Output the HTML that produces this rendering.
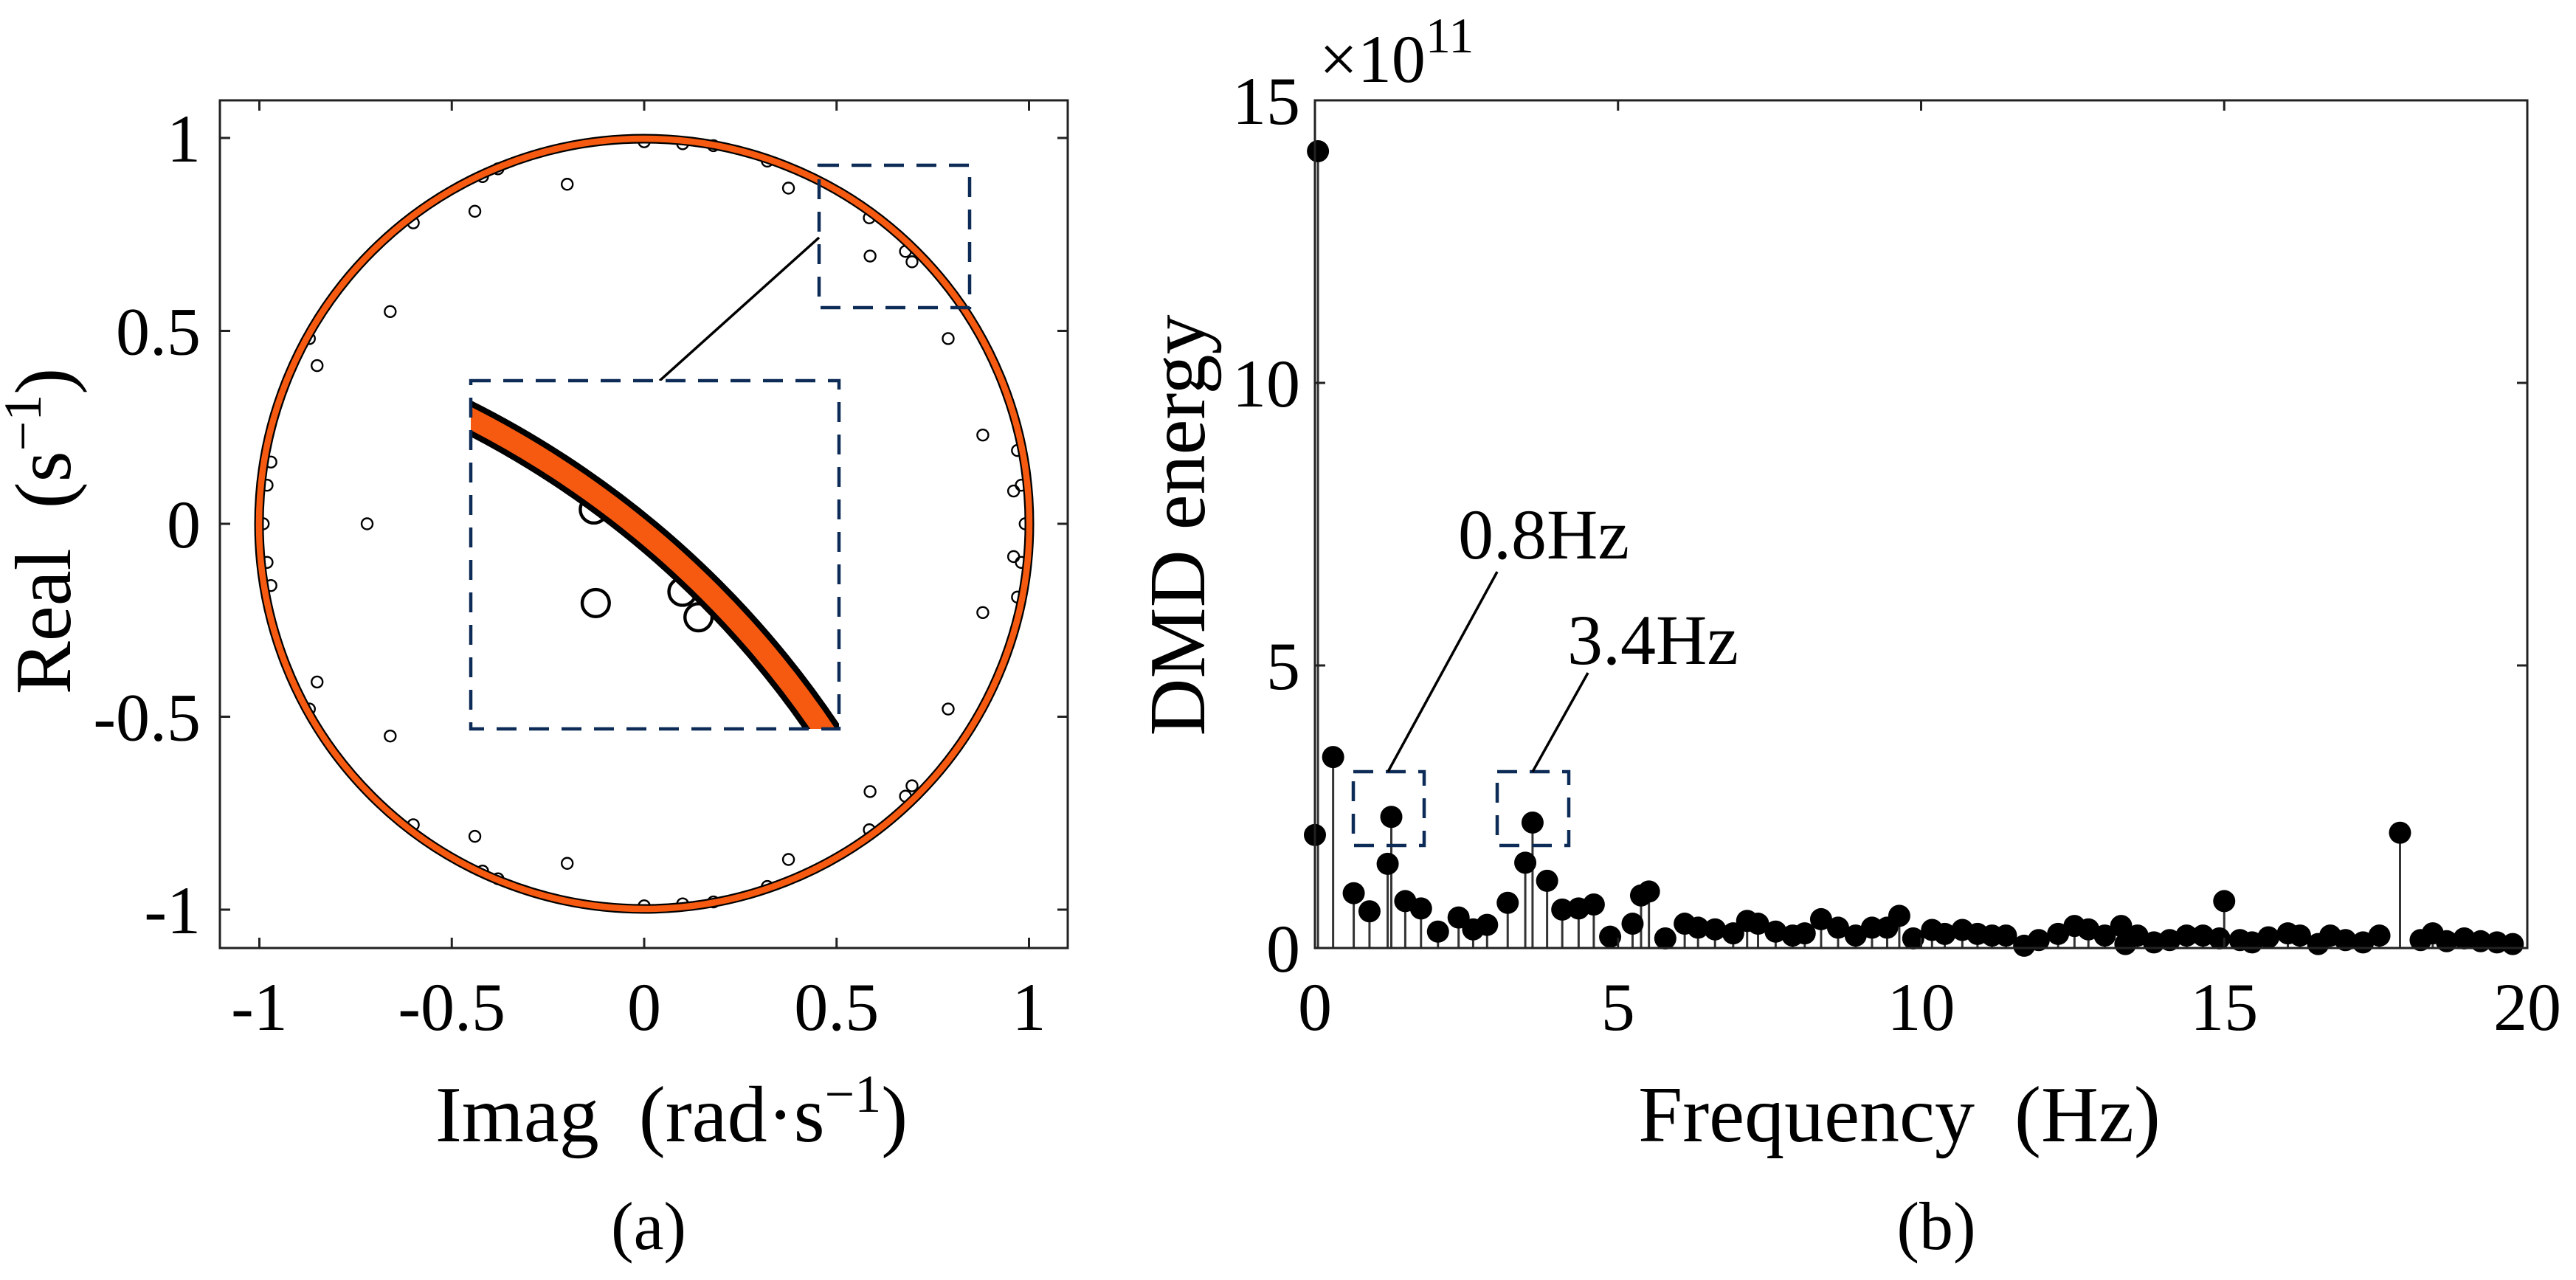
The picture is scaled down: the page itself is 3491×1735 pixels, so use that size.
<!DOCTYPE html>
<html><head><meta charset="utf-8">
<style>
html,body{margin:0;padding:0;background:#fff;overflow:hidden;width:3491px;height:1735px;}
svg{display:block;}
text{font-family:"Liberation Serif",serif;fill:#000;}
</style></head>
<body>
<svg id="fig" width="3491" height="1735" viewBox="0 0 3491 1735" xmlns="http://www.w3.org/2000/svg">
<defs>
<clipPath id="insetClip"><rect x="638" y="516" width="499" height="472"/></clipPath>
<clipPath id="leftClip"><rect x="298" y="136" width="1149" height="1149"/></clipPath>
</defs>
<g id="left"></g>
<g id="right"></g>
</svg>
<script>
// ---------- Panel (a) data ----------
const eigUpperRe = [-0.20,-0.44,-0.66,-0.85,0.375,0.587,0.79,0.88,0.96,0.0,0.10,0.18,0.585,0.679,0.696,-0.38,-0.60,-0.87,-0.97,-0.98,0.97,0.98,-0.42,0.32];
const eigUpperIm = [0.88,0.81,0.55,0.41,0.87,0.694,0.48,0.23,0.085,0.99,0.985,0.98,0.793,0.706,0.679,0.92,0.78,0.48,0.16,0.10,0.19,0.10,0.90,0.94];
const eigRealRe = [-0.72,-0.99,0.99];
const aTicks = [-1,-0.5,0,0.5,1];
const aTickLabels = ["-1","-0.5","0","0.5","1"];
// ---------- Panel (b) data ----------
const freqs = [0.0,0.05,0.3,0.64,0.9,1.2,1.26,1.49,1.75,2.03,2.37,2.61,2.84,3.18,3.47,3.59,3.83,4.08,4.35,4.6,4.87,5.24,5.38,5.51,5.78,6.1,6.32,6.6,6.9,7.13,7.31,7.6,7.88,8.08,8.35,8.63,8.92,9.19,9.44,9.64,9.87,10.18,10.39,10.68,10.93,11.17,11.4,11.7,11.94,12.26,12.53,12.76,13.03,13.3,13.37,13.57,13.84,14.1,14.38,14.65,14.92,15.0,15.26,15.46,15.73,16.05,16.25,16.55,16.75,17.0,17.29,17.56,17.9,18.24,18.44,18.67,18.96,19.23,19.5,19.76];
const energy = [2.0,14.1,3.38,0.97,0.65,1.49,2.32,0.83,0.7,0.29,0.54,0.33,0.41,0.8,1.51,2.22,1.19,0.68,0.7,0.77,0.2,0.43,0.93,1.0,0.17,0.43,0.36,0.33,0.26,0.48,0.43,0.29,0.22,0.26,0.51,0.36,0.22,0.36,0.36,0.57,0.17,0.32,0.25,0.32,0.25,0.22,0.22,0.04,0.14,0.25,0.39,0.33,0.22,0.39,0.07,0.22,0.1,0.14,0.22,0.22,0.17,0.83,0.14,0.1,0.19,0.26,0.22,0.07,0.22,0.14,0.1,0.22,2.04,0.14,0.26,0.12,0.17,0.12,0.1,0.07];
const bXTicks = [0,5,10,15,20];
const bYTicks = [0,5,10,15];

const NS="http://www.w3.org/2000/svg";
function mk(tag, parent, attrs){const e=document.createElementNS(NS,tag);for(const k in attrs)e.setAttribute(k,attrs[k]);parent.appendChild(e);return e;}

// ===== Panel (a) =====
const L=document.getElementById('left');
const ax=v=>873+v*521.5, ay=v=>710-v*523;
const inner=mk('g',L,{'clip-path':'url(#leftClip)'});
function drawCircleContent(g, blackW, orangeW, ptW){
  const ring=mk('circle',g,{cx:ax(0),cy:ay(0),r:522,fill:'none',stroke:'#000','stroke-width':blackW});
  
  
  const pts=[];
  eigUpperRe.forEach((re,i)=>{pts.push([re,eigUpperIm[i]]);pts.push([re,-eigUpperIm[i]]);});
  eigRealRe.forEach(re=>pts.push([re,0]));
  pts.forEach(p=>{
    const c=mk('circle',g,{cx:ax(p[0]),cy:ay(p[1]),r:7.5,fill:'none',stroke:'#000','stroke-width':ptW});
    
    
  });
  const o=mk('circle',g,{cx:ax(0),cy:ay(0),r:522,fill:'none',stroke:'#f55a10','stroke-width':orangeW});
  
  
}
drawCircleContent(inner,13,8.5,2.4);
const box=mk('rect',L,{x:298,y:136,width:1149,height:1149,fill:'none',stroke:'#222','stroke-width':3});


aTicks.forEach((t,i)=>{
  mk('line',L,{x1:ax(t),x2:ax(t),y1:1285,y2:1271,stroke:'#222','stroke-width':3});
  mk('line',L,{x1:ax(t),x2:ax(t),y1:136,y2:150,stroke:'#222','stroke-width':3});
  mk('line',L,{x1:298,x2:312,y1:ay(t),y2:ay(t),stroke:'#222','stroke-width':3});
  mk('line',L,{x1:1447,x2:1433,y1:ay(t),y2:ay(t),stroke:'#222','stroke-width':3});
  const xl=mk('text',L,{x:ax(t),y:1396,'font-size':92,'text-anchor':'middle'});xl.textContent=aTickLabels[i];
  
  
  const yl=mk('text',L,{x:272,y:ay(t)+32,'font-size':92,'text-anchor':'end'});yl.textContent=aTickLabels[i];
  
  
});
const NAVY='#0d2b57';
const sb=mk('rect',L,{x:1110,y:224,width:204,height:193,fill:'none',stroke:NAVY,'stroke-width':4.5,'stroke-dasharray':'27 17'});


mk('line',L,{x1:1110,y1:322,x2:894,y2:516,stroke:'#000','stroke-width':3.5});
mk('rect',L,{x:638,y:516,width:499,height:472,fill:'#fff'});
const ig=mk('g',L,{'clip-path':'url(#insetClip)'});
const s=2.45;
const tg=mk('g',ig,{transform:`translate(638,516) scale(${s}) translate(-1110,-224)`});
drawCircleContent(tg,18,11.5,1.8);
const ib=mk('rect',L,{x:638,y:516,width:499,height:472,fill:'none',stroke:NAVY,'stroke-width':4.5,'stroke-dasharray':'27 17'});


let t=mk('text',L,{x:910,y:1547,'font-size':108,'text-anchor':'middle'});
t.innerHTML='Imag&#160;&#160;(rad·s<tspan dy="-40" font-size="72">−1</tspan><tspan dy="40">)</tspan>';


t=mk('text',L,{x:0,y:0,'font-size':108,'text-anchor':'middle',transform:'translate(95,720) rotate(-90)'});
t.innerHTML='Real&#160;&#160;(s<tspan dy="-40" font-size="72">−1</tspan><tspan dy="40">)</tspan>';


t=mk('text',L,{x:879,y:1693,'font-size':92,'text-anchor':'middle'});t.textContent='(a)';



// ===== Panel (b) =====
const R=document.getElementById('right');
const X0=1782,X1=3425,Y0=1285,Y1=136;
const bx=v=>X0+v/20*(X1-X0), by=v=>Y0-v/15*(Y0-Y1);
freqs.forEach((f,i)=>{
  const st=mk('line',R,{x1:bx(f),x2:bx(f),y1:Y0,y2:by(energy[i]),stroke:'#333','stroke-width':3});
  
  
});
freqs.forEach((f,i)=>{
  const m=mk('circle',R,{cx:bx(f),cy:by(energy[i]),r:15,fill:'#000'});
  
  
});
const bb=mk('rect',R,{x:X0,y:Y1,width:X1-X0,height:Y0-Y1,fill:'none',stroke:'#222','stroke-width':3});


bXTicks.forEach(v=>{
  mk('line',R,{x1:bx(v),x2:bx(v),y1:Y0,y2:Y0-14,stroke:'#222','stroke-width':3});
  mk('line',R,{x1:bx(v),x2:bx(v),y1:Y1,y2:Y1+14,stroke:'#222','stroke-width':3});
  const l=mk('text',R,{x:bx(v),y:1396,'font-size':92,'text-anchor':'middle'});l.textContent=String(v);
  
  
});
bYTicks.forEach(v=>{
  mk('line',R,{x1:X0,x2:X0+14,y1:by(v),y2:by(v),stroke:'#222','stroke-width':3});
  mk('line',R,{x1:X1,x2:X1-14,y1:by(v),y2:by(v),stroke:'#222','stroke-width':3});
  const l=mk('text',R,{x:1762,y:by(v)+32,'font-size':92,'text-anchor':'end'});l.textContent=String(v);
  
  
});
t=mk('text',R,{x:1788,y:111,'font-size':92});
t.innerHTML='×10<tspan dy="-40" font-size="68">11</tspan>';


[[1834,1046,96,100],[2029,1046,97,100]].forEach(r=>{
  const a=mk('rect',R,{x:r[0],y:r[1],width:r[2],height:r[3],fill:'none',stroke:NAVY,'stroke-width':4.5,'stroke-dasharray':'27 17'});
  
  
});
mk('line',R,{x1:1881,y1:1046,x2:2029,y2:775,stroke:'#000','stroke-width':3.5});
mk('line',R,{x1:2077,y1:1046,x2:2152,y2:912,stroke:'#000','stroke-width':3.5});
t=mk('text',R,{x:2092,y:757,'font-size':96,'text-anchor':'middle'});t.textContent='0.8Hz';


t=mk('text',R,{x:2240,y:900,'font-size':96,'text-anchor':'middle'});t.textContent='3.4Hz';


t=mk('text',R,{x:2574,y:1547,'font-size':108,'text-anchor':'middle'});t.innerHTML='Frequency&#160;&#160;(Hz)';


t=mk('text',R,{x:0,y:0,'font-size':108,'text-anchor':'middle',transform:'translate(1632,712) rotate(-90)'});t.textContent='DMD energy';


t=mk('text',R,{x:2624,y:1693,'font-size':92,'text-anchor':'middle'});t.textContent='(b)';


</script>
</body></html>
